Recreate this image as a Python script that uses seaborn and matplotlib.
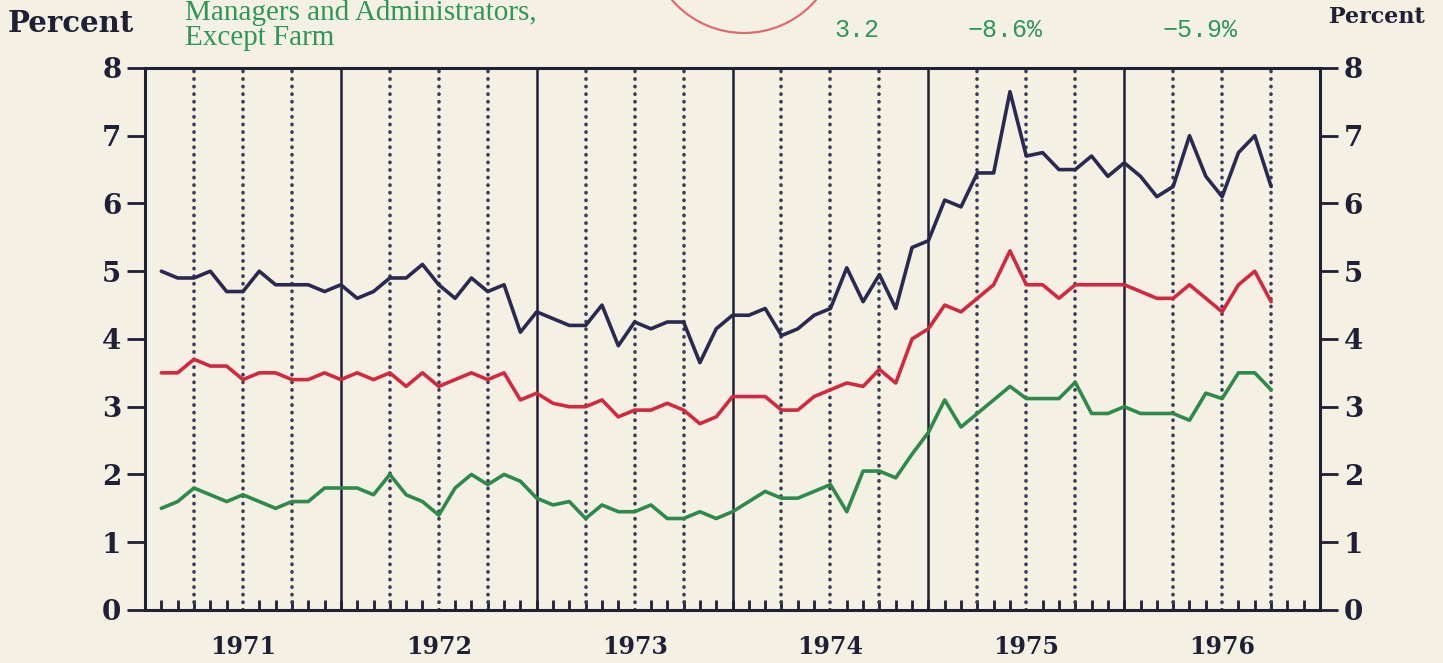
import numpy as np
import pandas as pd
import matplotlib
matplotlib.use("Agg")
import matplotlib.pyplot as plt
from matplotlib.patches import Ellipse
import seaborn as sns


# monthly data, Jan 1971 .. Sep 1976 (month index 1..69)
years = ["1971", "1972", "1973", "1974", "1975", "1976"]
months = list(range(1, 70))

navy = [5.0, 4.9, 4.9, 5.0, 4.7, 4.7, 5.0, 4.8, 4.8, 4.8, 4.7, 4.8,
        4.6, 4.7, 4.9, 4.9, 5.1, 4.8, 4.6, 4.9, 4.7, 4.8, 4.1, 4.4,
        4.3, 4.2, 4.2, 4.5, 3.9, 4.25, 4.15, 4.25, 4.25, 3.65, 4.15, 4.35,
        4.35, 4.45, 4.05, 4.15, 4.35, 4.45, 5.05, 4.55, 4.95, 4.45, 5.35, 5.45,
        6.05, 5.95, 6.45, 6.45, 7.65, 6.7, 6.75, 6.5, 6.5, 6.7, 6.4, 6.6,
        6.4, 6.1, 6.25, 7.0, 6.4, 6.1, 6.75, 7.0, 6.25]

red = [3.5, 3.5, 3.7, 3.6, 3.6, 3.4, 3.5, 3.5, 3.4, 3.4, 3.5, 3.4,
       3.5, 3.4, 3.5, 3.3, 3.5, 3.3, 3.4, 3.5, 3.4, 3.5, 3.1, 3.2,
       3.05, 3.0, 3.0, 3.1, 2.85, 2.95, 2.95, 3.05, 2.95, 2.75, 2.85, 3.15,
       3.15, 3.15, 2.95, 2.95, 3.15, 3.25, 3.35, 3.3, 3.55, 3.35, 4.0, 4.15,
       4.5, 4.4, 4.6, 4.8, 5.3, 4.8, 4.8, 4.6, 4.8, 4.8, 4.8, 4.8,
       4.7, 4.6, 4.6, 4.8, 4.6, 4.4, 4.8, 5.0, 4.55]

green = [1.5, 1.6, 1.8, 1.7, 1.6, 1.7, 1.6, 1.5, 1.6, 1.6, 1.8, 1.8,
         1.8, 1.7, 2.0, 1.7, 1.6, 1.4, 1.8, 2.0, 1.85, 2.0, 1.9, 1.65,
         1.55, 1.6, 1.35, 1.55, 1.45, 1.45, 1.55, 1.35, 1.35, 1.45, 1.35, 1.45,
         1.6, 1.75, 1.65, 1.65, 1.75, 1.85, 1.45, 2.05, 2.05, 1.95, 2.3, 2.62,
         3.1, 2.7, 2.9, 3.1, 3.3, 3.12, 3.12, 3.12, 3.36, 2.9, 2.9, 3.0,
         2.9, 2.9, 2.9, 2.8, 3.2, 3.12, 3.5, 3.5, 3.25]

series_names = ["navy", "red", "green"]
series_colors = ["#2a2950", "#d3283f", "#2e8a4c"]
y_ticks = [0, 1, 2, 3, 4, 5, 6, 7, 8]

header_lines = ["Managers and Administrators,", "Except Farm"]
header_values = ["3.2", "\u22128.6%", "\u22125.9%"]

paper = "#f4f1e4"
ink = "#1f1f36"
text_green = "#2f9658"

df = pd.DataFrame({
    "month": months * 3,
    "rate": navy + red + green,
    "series": [n for n in series_names for _ in months],
})

sns.set_style("white")
plt.rcParams["font.family"] = ["DejaVu Serif"]

fig = plt.figure(figsize=(14.43, 6.63), dpi=100)
fig.patch.set_facecolor(paper)
ax = fig.add_axes([0.1005, 0.080, 0.8143, 0.8175])
ax.set_facecolor(paper)

# year boundaries (solid) and quarters (dotted)
for m in range(3, 72, 3):
    if m % 12 == 0:
        ax.axvline(m, color=ink, lw=1.8, zorder=1)
    else:
        ax.axvline(m, color="#3a3d5a", lw=2.6, ls=(0, (0.1, 2.0)),
                   dash_capstyle="round", zorder=1)

sns.lineplot(data=df, x="month", y="rate", hue="series",
             palette=dict(zip(series_names, series_colors)),
             linewidth=2.6, legend=False, ax=ax, zorder=3)

ax.set_xlim(0, 72)
ax.set_ylim(0, 8)
ax.set_xlabel("")
ax.set_ylabel("")

# year labels centred on each year, monthly minor ticks
ax.set_xticks([6 + 12 * k for k in range(len(years))])
ax.set_xticklabels(years, fontsize=17, fontweight="bold", color=ink)
ax.set_xticks(range(1, 72), minor=True)
ax.tick_params(axis="x", which="major", length=0, pad=18)
ax.tick_params(axis="x", which="minor", direction="in", length=7,
               width=2, color=ink, bottom=True, top=False)

ax.set_yticks(y_ticks)
ax.set_yticklabels([str(v) for v in y_ticks], fontsize=20,
                   fontweight="bold", color=ink)
ax.tick_params(axis="y", which="major", direction="out", length=13,
               width=2, color=ink, left=True, right=True,
               labelleft=True, labelright=True, pad=4)

for side in ax.spines.values():
    side.set_color(ink)
    side.set_linewidth(2.2)

# header texts
fig.text(8 / 1443, 1 - 23 / 663, "Percent", fontsize=21, fontweight="bold",
         color=ink, ha="left", va="center")
fig.text(1425 / 1443, 1 - 17 / 663, "Percent", fontsize=16, fontweight="bold",
         color=ink, ha="right", va="center")
fig.text(185 / 1443, 1 - 20 / 663, header_lines[0], fontsize=21,
         family=["Liberation Serif", "DejaVu Serif"], color=text_green,
         ha="left", va="baseline")
fig.text(185 / 1443, 1 - 45 / 663, header_lines[1], fontsize=21,
         family=["Liberation Serif", "DejaVu Serif"], color=text_green,
         ha="left", va="baseline")
for xpos, label in zip([857, 1005, 1200], header_values):
    fig.text(xpos / 1443, 1 - 30 / 663, label, fontsize=18,
             family=["Liberation Mono", "DejaVu Sans Mono"],
             color=text_green, ha="center", va="center")

# partial red stamp at the top edge
fig.add_artist(Ellipse((744 / 1443, 1 + 62 / 663), 190 / 1443, 190 / 663,
                       transform=fig.transFigure, fill=False,
                       edgecolor="#df6a72", lw=1.6))

fig.savefig("out.png", dpi=100, facecolor=paper)
